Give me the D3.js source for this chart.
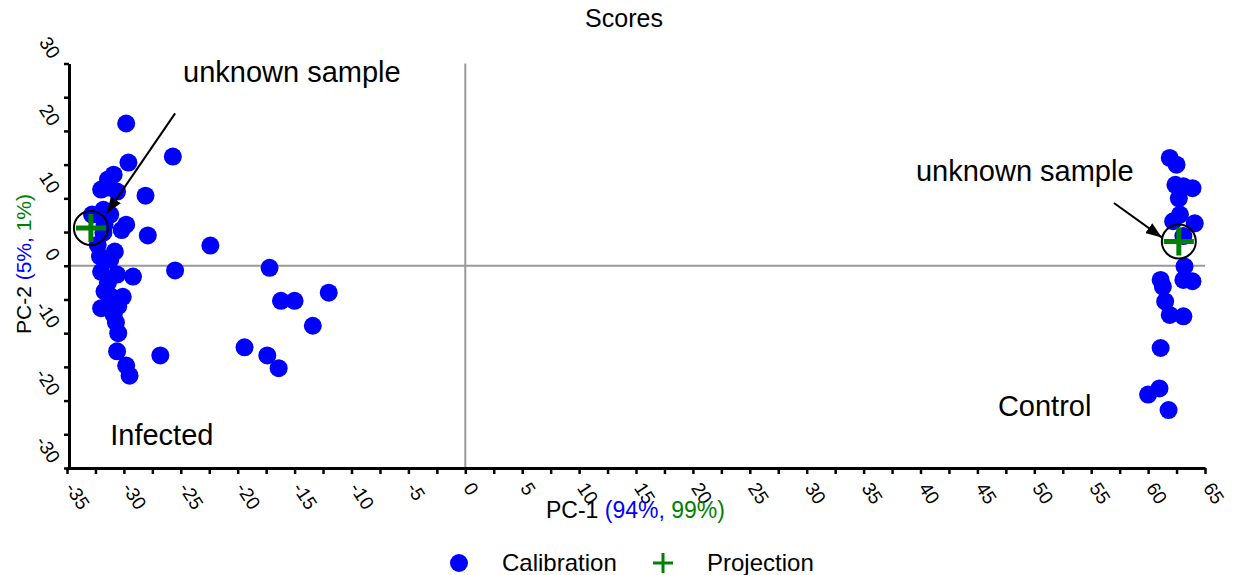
<!DOCTYPE html>
<html>
<head>
<meta charset="utf-8">
<script src="https://cdn.jsdelivr.net/npm/d3@7"></script>
<style>
  body { margin: 0; background: #fff; }
  text { font-family: "Liberation Sans", Arial, sans-serif; fill: #000; }
</style>
</head>
<body>
<div id="chart"></div>
<script>
var svgWidth = 1243;
var svgHeight = 575;

// Calibration scores (PC-1, PC-2)
var calPC1 = [
  -29.8, -25.7, -29.6, -30.9, -31.4, -32.0, -30.6, -28.1, -31.4, -31.8,
  -32.8, -31.2, -29.8, -31.7, -30.2, -27.9, -31.8, -32.3, -30.8, -32.1,
  -22.4, -31.2, -25.5, -17.2, -32.0, -30.6, -29.2, -31.4, -31.7, -31.1,
  -30.1, -32.0, -30.5, -30.9, -30.7, -30.5, -30.6, -26.8, -29.8, -29.5,
  -16.2, -15.0, -12.0, -13.4, -19.4, -17.4, -16.4,
  61.9, 62.5, 62.4, 63.1, 63.9, 62.7, 62.8, 64.1, 62.2, 63.1,
  63.2, 61.1, 61.3, 63.1, 63.9, 61.5, 61.9, 63.1, 61.1, 61.0,
  60.0, 61.8
];
var calPC2 = [
  21.1, 16.2, 15.3, 13.5, 12.8, 11.3, 11.0, 10.4, 11.6, 8.3,
  7.6, 7.6, 6.1, 6.1, 5.3, 4.5, 4.9, 3.1, 2.1, 1.4,
  3.0, 0.9, -0.7, -0.3, -0.9, -1.3, -1.6, -2.5, -3.8, -4.6,
  -4.6, -6.3, -6.0, -7.3, -8.4, -10.0, -12.7, -13.3, -14.8, -16.3,
  -5.2, -5.2, -4.0, -8.9, -12.1, -13.3, -15.2,
  16.0, 15.0, 12.0, 11.8, 11.5, 10.0, 7.6, 6.3, 6.6, 4.4,
  -0.1, -2.1, -3.1, -2.1, -2.3, -5.3, -7.3, -7.5, -12.2, -18.2,
  -19.1, -21.4
];

// Projected unknown samples
var projPC1 = [-32.9, 62.7];
var projPC2 = [5.6, 3.6];

// Annotation arrows: start -> tip (data units)
var arrowFrom = [[-25.5, 22.6], [57.0, 9.3]];
var arrowTo = [[-31.5, 7.8], [61.2, 4.2]];

// Annotation texts and anchor points (data units)
var noteText = ["unknown sample", "unknown sample", "Infected", "Control"];
var notePos = [[-24.8, 27.3], [39.6, 12.6], [-31.2, -26.6], [46.8, -22.3]];

var xTicks = d3.range(-35, 65.01, 2.5);
var yTicks = d3.range(-30, 30.01, 5);
var legendLabels = ["Calibration", "Projection"];

var blue = "#0000ff";
var green = "#008000";

var svg = d3.select("#chart")
  .append("svg")
  .attr("width", svgWidth)
  .attr("height", svgHeight);

var defs = svg.append("defs");
defs.append("marker")
  .attr("id", "arrow")
  .attr("markerUnits", "userSpaceOnUse")
  .attr("viewBox", "0 0 16 12")
  .attr("refX", 16)
  .attr("refY", 6)
  .attr("markerWidth", 16)
  .attr("markerHeight", 12)
  .attr("orient", "auto")
  .append("path")
  .attr("d", "M0,0 L16,6 L0,12 Z")
  .attr("fill", "#000");

var x = d3.scaleLinear().domain([-35, 65]).range([67, 1205]);
var y = d3.scaleLinear().domain([-30, 30]).range([468, 63.5]);

// title
svg.append("text")
  .attr("x", 624)
  .attr("y", 27)
  .attr("text-anchor", "middle")
  .style("font-size", "25px")
  .text("Scores");

// zero lines
svg.append("line")
  .attr("x1", x(-35)).attr("x2", x(65))
  .attr("y1", y(0)).attr("y2", y(0))
  .attr("stroke", "#999").attr("stroke-width", 2);
svg.append("line")
  .attr("x1", x(0)).attr("x2", x(0))
  .attr("y1", y(30)).attr("y2", y(-30))
  .attr("stroke", "#999").attr("stroke-width", 2);

// axes
var bottomAxis = d3.axisBottom(x)
  .tickValues(xTicks)
  .tickFormat(d => d % 5 === 0 ? String(d) : "")
  .tickSize(6)
  .tickSizeOuter(0);

var leftAxis = d3.axisLeft(y)
  .tickValues(yTicks)
  .tickFormat(d => d % 10 === 0 ? String(d) : "")
  .tickSize(5)
  .tickSizeOuter(0);

var gx = svg.append("g")
  .attr("transform", `translate(0, ${y(-30)})`)
  .call(bottomAxis);

var gy = svg.append("g")
  .attr("transform", `translate(${x(-35) + 2}, 0)`)
  .call(leftAxis);

[gx, gy].forEach(function(g) {
  g.select(".domain").attr("stroke", "#000").attr("stroke-width", 3);
  g.selectAll(".tick line").attr("stroke", "#000").attr("stroke-width", 2.5);
  g.selectAll(".tick text")
    .attr("fill", "#000")
    .style("font-family", "'Liberation Sans', Arial, sans-serif")
    .style("font-size", "19px");
});

gx.selectAll(".tick text")
  .attr("x", 0).attr("y", 0).attr("dy", null)
  .attr("text-anchor", "start")
  .attr("transform", "translate(-3, 20) rotate(57)");

gy.selectAll(".tick text")
  .attr("x", 0).attr("y", 0).attr("dy", null)
  .attr("text-anchor", "end")
  .attr("transform", "translate(-19, -4) rotate(57)");

// axis titles
var xTitle = svg.append("text")
  .attr("x", 546)
  .attr("y", 518)
  .style("font-size", "23px");
xTitle.append("tspan").text("PC-1 ");
xTitle.append("tspan").style("fill", blue).text("(94%, ");
xTitle.append("tspan").style("fill", green).text("99%)");

var yTitle = svg.append("text")
  .attr("transform", `translate(31, ${264}) rotate(-90)`)
  .attr("text-anchor", "middle")
  .style("font-size", "21px");
yTitle.append("tspan").text("PC-2 ");
yTitle.append("tspan").style("fill", blue).text("(5%, ");
yTitle.append("tspan").style("fill", green).text("1%)");

// calibration points
svg.append("g")
  .selectAll("circle")
  .data(calPC1.map((v, i) => [v, calPC2[i]]))
  .enter()
  .append("circle")
  .attr("cx", d => x(d[0]))
  .attr("cy", d => y(d[1]))
  .attr("r", 9)
  .attr("fill", blue);

// projected points
var proj = svg.append("g")
  .selectAll("g")
  .data(projPC1.map((v, i) => [v, projPC2[i]]))
  .enter()
  .append("g")
  .attr("transform", d => `translate(${x(d[0])}, ${y(d[1])})`);

proj.append("circle")
  .attr("r", 17)
  .attr("fill", "none")
  .attr("stroke", "#000")
  .attr("stroke-width", 2);
proj.append("path")
  .attr("d", "M-15,0 H15 M0,-14 V14")
  .attr("stroke", green)
  .attr("stroke-width", 5);

// arrows
svg.append("g")
  .selectAll("line")
  .data(arrowFrom.map((a, i) => [a, arrowTo[i]]))
  .enter()
  .append("line")
  .attr("x1", d => x(d[0][0]))
  .attr("y1", d => y(d[0][1]))
  .attr("x2", d => x(d[1][0]))
  .attr("y2", d => y(d[1][1]))
  .attr("stroke", "#000")
  .attr("stroke-width", 2)
  .attr("marker-end", "url(#arrow)");

// annotation texts
svg.append("g")
  .selectAll("text")
  .data(noteText)
  .enter()
  .append("text")
  .attr("x", (d, i) => x(notePos[i][0]))
  .attr("y", (d, i) => y(notePos[i][1]))
  .style("font-size", "29px")
  .text(d => d);

// legend
var legend = svg.append("g");
legend.append("circle")
  .attr("cx", 459).attr("cy", 563).attr("r", 9)
  .attr("fill", blue);
legend.append("path")
  .attr("d", "M653,563 H673 M663,553 V573")
  .attr("stroke", green)
  .attr("stroke-width", 3);
legend.selectAll("text")
  .data(legendLabels)
  .enter()
  .append("text")
  .attr("x", (d, i) => i === 0 ? 502 : 707)
  .attr("y", 571)
  .style("font-size", "24px")
  .text(d => d);
</script>
</body>
</html>
